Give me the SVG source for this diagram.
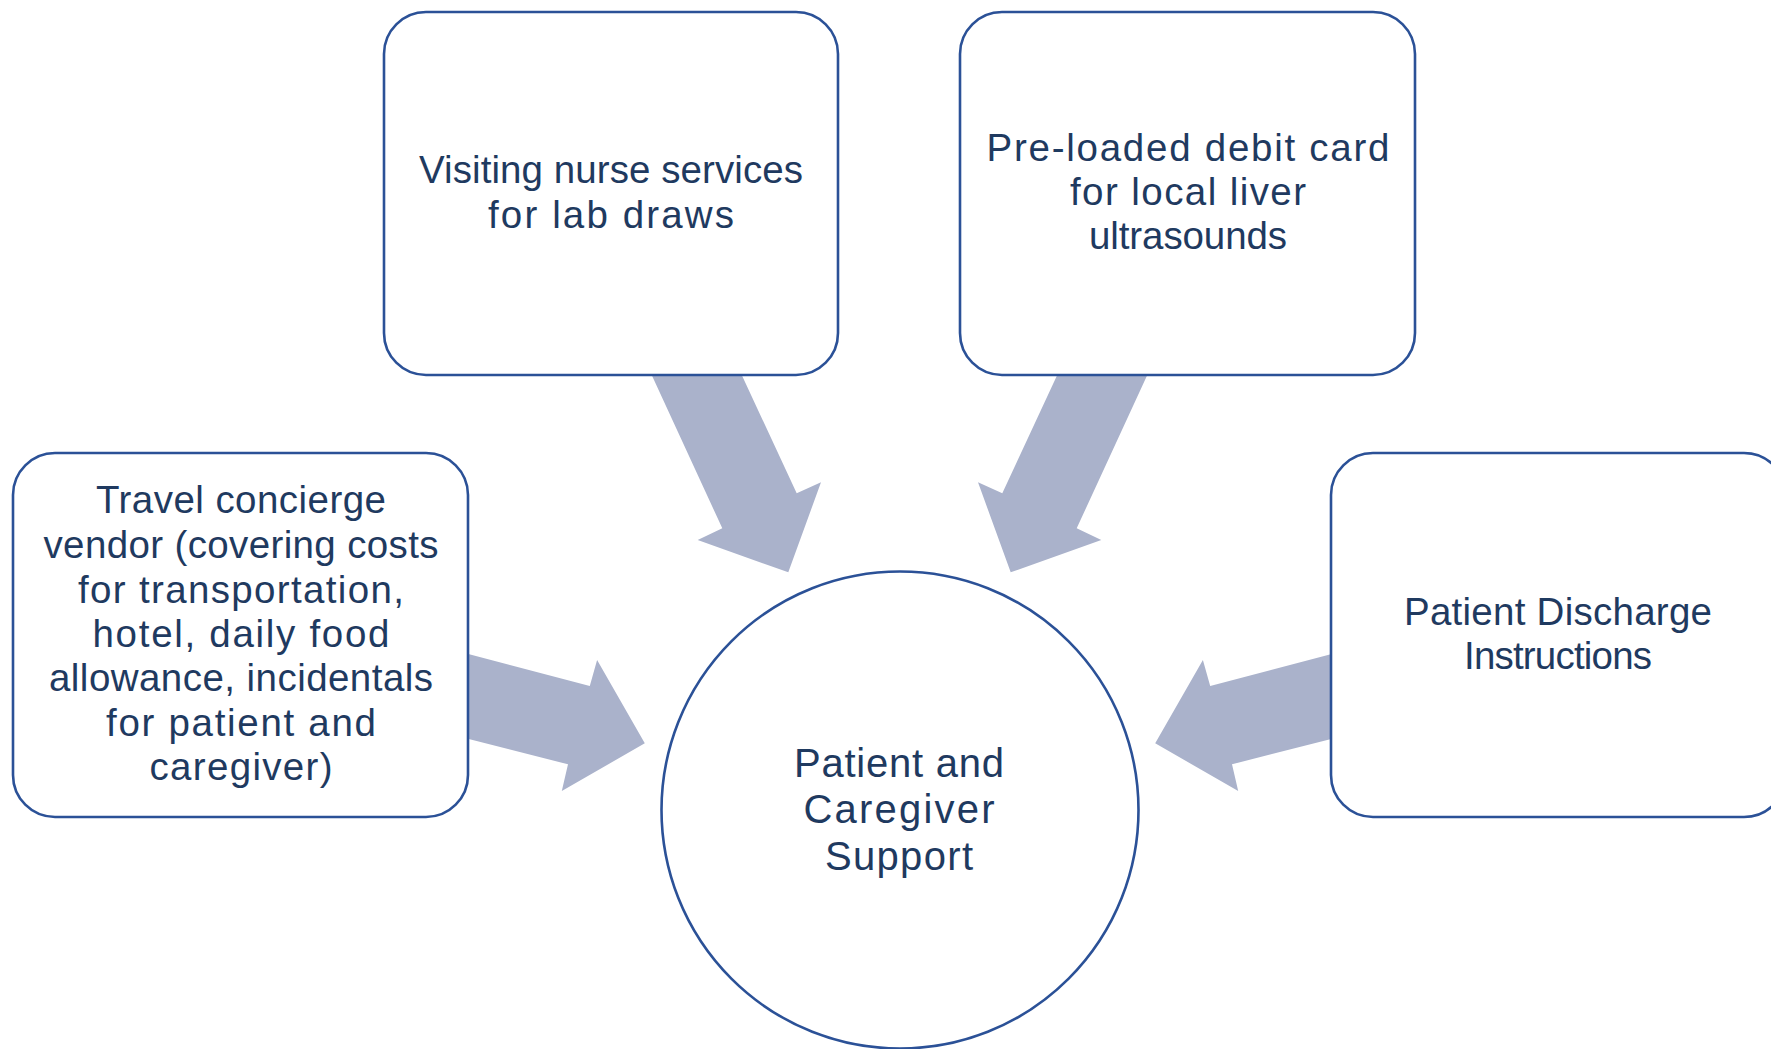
<svg xmlns="http://www.w3.org/2000/svg" width="1771" height="1049" viewBox="0 0 1771 1049">
  <style>
    .box { fill: #ffffff; stroke: #2B5197; stroke-width: 2.6; }
    .hub { fill: #ffffff; stroke: #2B5197; stroke-width: 2.6; }
    .flow { fill: #AAB2CB; stroke: none; }
    .label { font-family: "Liberation Sans", Arial, sans-serif; font-size: 38.5px; fill: #1F3A60; text-anchor: middle; }
    .hub-label { font-family: "Liberation Sans", Arial, sans-serif; font-size: 40px; fill: #1F3A60; text-anchor: middle; }
  </style>
  <rect width="1771" height="1049" fill="#ffffff"/>

  <!-- block arrows pointing into the central circle -->
  <g id="connectors">
    <polygon class="flow" points="644.8,360 734.8,360 796.7,493.3 821,482.3 788.3,572.3 697.7,540 722.3,528.3"/>
    <polygon class="flow" points="1154.2,360 1064.2,360 1002.3,493.3 978,482.3 1010.7,572.3 1101.3,540 1076.7,528.3"/>
    <polygon class="flow" points="455,650.6 589.8,686 597.1,660 644.8,743.3 561.8,791 568,764.3 455,735.4"/>
    <polygon class="flow" points="1345,650.6 1210.2,686 1202.9,660 1155.2,743.3 1238.2,791 1232,764.3 1345,735.4"/>
  </g>

  <g id="node-nurse">
    <rect class="box" x="384" y="12" width="454" height="363" rx="42" ry="42"/>
    <text class="label" x="611" y="182.7" textLength="384">Visiting nurse services</text>
    <text class="label" x="611" y="228.3" textLength="246">for lab draws</text>
  </g>

  <g id="node-debit">
    <rect class="box" x="960" y="12" width="455" height="363" rx="42" ry="42"/>
    <text class="label" x="1188" y="161" textLength="403">Pre-loaded debit card</text>
    <text class="label" x="1188" y="205" textLength="236">for local liver</text>
    <text class="label" x="1188" y="249.3" textLength="198">ultrasounds</text>
  </g>

  <g id="node-travel">
    <rect class="box" x="13" y="453" width="455" height="364" rx="42" ry="42"/>
    <text class="label" x="241" y="513.3" textLength="290">Travel concierge</text>
    <text class="label" x="241" y="558.3" textLength="395">vendor (covering costs</text>
    <text class="label" x="241" y="603.3" textLength="326">for transportation,</text>
    <text class="label" x="241" y="646.7" textLength="297">hotel, daily food</text>
    <text class="label" x="241" y="690.7" textLength="384">allowance, incidentals</text>
    <text class="label" x="241" y="736" textLength="270">for patient and</text>
    <text class="label" x="241" y="780" textLength="183">caregiver)</text>
  </g>

  <g id="node-discharge">
    <rect class="box" x="1331" y="453" width="455" height="364" rx="42" ry="42"/>
    <text class="label" x="1558" y="625" textLength="308">Patient Discharge</text>
    <text class="label" x="1558" y="669.3" textLength="188">Instructions</text>
  </g>

  <g id="node-support">
    <circle class="hub" cx="900" cy="810" r="238.5"/>
    <text class="hub-label" x="899" y="776.7" textLength="210">Patient and</text>
    <text class="hub-label" x="899" y="822.7" textLength="191">Caregiver</text>
    <text class="hub-label" x="899" y="870" textLength="148">Support</text>
  </g>
</svg>
